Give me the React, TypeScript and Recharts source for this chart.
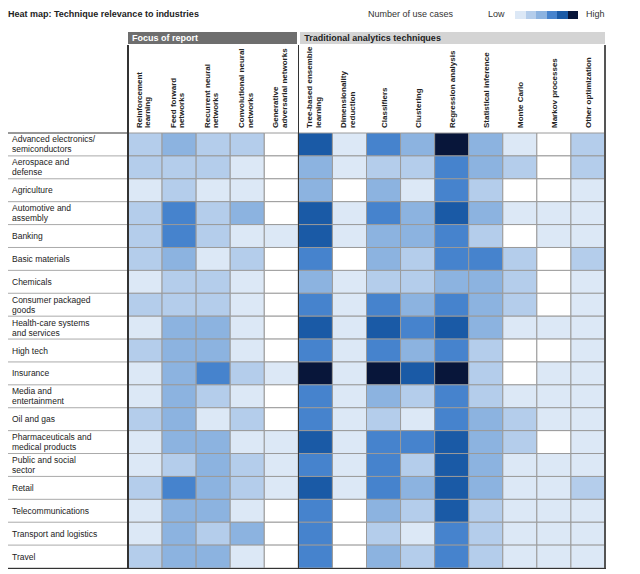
import { Bar, BarChart, Cell, XAxis, YAxis } from 'recharts'

const industries = [
  'Advanced electronics/\nsemiconductors',
  'Aerospace and\ndefense',
  'Agriculture',
  'Automotive and\nassembly',
  'Banking',
  'Basic materials',
  'Chemicals',
  'Consumer packaged\ngoods',
  'Health-care systems\nand services',
  'High tech',
  'Insurance',
  'Media and\nentertainment',
  'Oil and gas',
  'Pharmaceuticals and\nmedical products',
  'Public and social\nsector',
  'Retail',
  'Telecommunications',
  'Transport and logistics',
  'Travel',
]

const techniques = [
  'Reinforcement\nlearning',
  'Feed forward\nnetworks',
  'Recurrent neural\nnetworks',
  'Convolutional neural\nnetworks',
  'Generative\nadversarial networks',
  'Tree-based ensemble\nlearning',
  'Dimensionality\nreduction',
  'Classifiers',
  'Clustering',
  'Regression analysis',
  'Statistical inference',
  'Monte Carlo',
  'Markov processes',
  'Other optimization',
]

// use-case intensity per industry (0 = none ... 6 = high), one row per industry
const useCases = [
  [2, 3, 2, 2, 0, 5, 1, 4, 3, 6, 3, 1, 0, 2],
  [2, 2, 2, 1, 0, 3, 1, 2, 2, 4, 3, 2, 0, 2],
  [1, 2, 1, 1, 0, 3, 0, 3, 1, 4, 2, 0, 0, 1],
  [2, 4, 2, 3, 0, 5, 1, 4, 3, 5, 3, 1, 1, 1],
  [2, 4, 2, 1, 1, 5, 1, 3, 3, 4, 2, 0, 1, 1],
  [2, 3, 1, 2, 0, 4, 0, 3, 2, 4, 4, 2, 0, 2],
  [1, 2, 2, 1, 0, 3, 1, 2, 2, 3, 3, 2, 0, 1],
  [2, 2, 2, 1, 0, 4, 1, 4, 3, 4, 3, 2, 0, 1],
  [1, 3, 3, 1, 0, 5, 1, 5, 4, 5, 3, 1, 1, 1],
  [2, 3, 3, 1, 0, 4, 1, 4, 3, 4, 2, 0, 0, 1],
  [1, 3, 4, 2, 1, 6, 1, 6, 5, 6, 2, 0, 1, 1],
  [1, 3, 2, 1, 0, 4, 1, 3, 2, 4, 2, 1, 1, 1],
  [2, 3, 1, 2, 0, 4, 1, 2, 1, 4, 3, 2, 1, 1],
  [1, 3, 3, 1, 1, 5, 1, 4, 4, 5, 3, 2, 0, 1],
  [1, 2, 3, 2, 1, 4, 1, 4, 2, 5, 3, 1, 1, 1],
  [2, 4, 3, 2, 1, 5, 1, 4, 3, 5, 3, 1, 1, 2],
  [1, 3, 3, 1, 0, 4, 0, 3, 2, 5, 2, 1, 1, 1],
  [1, 3, 2, 3, 0, 4, 0, 2, 1, 4, 2, 1, 1, 1],
  [2, 3, 3, 1, 0, 4, 0, 3, 2, 4, 2, 1, 1, 1],
]

const palette = ['#ffffff', '#dce8f6', '#b4cdeb', '#8cb3e0', '#4683cd', '#1a5aa6', '#08163a']
const legendLevels = [1, 2, 3, 4, 5, 6]

const W = 640
const H = 574
const margin = { top: 45, right: 35, bottom: 6, left: 8 }
const axisTop = 88
const axisLeft = 120
const plotTop = margin.top + axisTop
const plotBottom = H - margin.bottom
const plotLeft = margin.left + axisLeft
const plotRight = W - margin.right
const rowH = (plotBottom - plotTop) / industries.length
const colW = (plotRight - plotLeft) / techniques.length

const font = '"Liberation Sans", Arial, sans-serif'

const data = industries.map((name) => {
  const row: Record<string, string | number> = { name }
  techniques.forEach((_, j) => {
    row[`c${j}`] = 1
  })
  return row
})

const IndustryTick = (props: any) => {
  const { y, payload, index } = props
  const lines = String(payload.value).split('\n')
  return (
    <g>
      {index === 0 && (
        <line x1={margin.left} x2={plotLeft} y1={y - rowH / 2} y2={y - rowH / 2} stroke='#333' strokeWidth={1} />
      )}
      <line x1={margin.left} x2={plotLeft} y1={y + rowH / 2} y2={y + rowH / 2} stroke='#aaa' strokeWidth={1} />
      <text x={12} y={y} fontSize={8.5} fontFamily={font} fill='#222'>
        {lines.map((l, k) => (
          <tspan key={k} x={12} y={y + (k - (lines.length - 1) / 2) * 10 + 3}>
            {l}
          </tspan>
        ))}
      </text>
    </g>
  )
}

const TechniqueTick = (props: any) => {
  const { x, payload } = props
  const idx = Math.round(payload.value - 0.5)
  const lines = (techniques[idx] || '').split('\n')
  const shift = lines.length > 1 ? -2 : 0
  return (
    <text
      transform={`translate(${x + shift},${plotTop - 5}) rotate(-90)`}
      fontSize={8}
      fontWeight='bold'
      fontFamily={font}
      fill='#222'
      textAnchor='start'
    >
      {lines.map((l, k) => (
        <tspan key={k} x={0} y={(k - (lines.length - 1) / 2) * 8.5 + 3}>
          {l}
        </tspan>
      ))}
    </text>
  )
}

const vline = (x: number, top: number, w: number, color: string) => (
  <div
    style={{
      position: 'absolute',
      left: x - w / 2,
      top,
      width: w,
      height: plotBottom - top,
      background: color,
    }}
  />
)

export default function App() {
  const split = plotLeft + colW * 5
  return (
    <div style={{ position: 'absolute', left: 0, top: 0, width: W, height: H, background: '#fff', fontFamily: font }}>
      <div style={{ position: 'absolute', left: 8, top: 9, fontSize: 9, fontWeight: 'bold', color: '#222' }}>
        Heat map: Technique relevance to industries
      </div>
      <div style={{ position: 'absolute', left: 368, top: 9, fontSize: 9, color: '#333' }}>Number of use cases</div>
      <div style={{ position: 'absolute', left: 488, top: 9, fontSize: 9, color: '#333' }}>Low</div>
      <div style={{ position: 'absolute', left: 515, top: 11, display: 'flex' }}>
        {legendLevels.map((l) => (
          <div key={l} style={{ width: 10.5, height: 8, background: palette[l] }} />
        ))}
      </div>
      <div style={{ position: 'absolute', left: 586, top: 9, fontSize: 9, color: '#333' }}>High</div>
      <div
        style={{
          position: 'absolute',
          left: plotLeft,
          top: 32,
          width: split - plotLeft - 1,
          height: 12,
          background: '#6e6e6e',
          color: '#fff',
          fontSize: 9,
          fontWeight: 'bold',
          lineHeight: '12px',
          paddingLeft: 4,
          boxSizing: 'border-box',
        }}
      >
        Focus of report
      </div>
      <div
        style={{
          position: 'absolute',
          left: split + 2,
          top: 32,
          width: plotRight - split - 2,
          height: 12,
          background: '#d4d4d4',
          color: '#222',
          fontSize: 9,
          fontWeight: 'bold',
          lineHeight: '12px',
          paddingLeft: 4,
          boxSizing: 'border-box',
        }}
      >
        Traditional analytics techniques
      </div>
      <div style={{ position: 'absolute', left: 0, top: 0 }}>
        <BarChart width={W} height={H} data={data} layout='vertical' margin={margin} barCategoryGap={0}>
          <XAxis
            type='number'
            orientation='top'
            domain={[0, techniques.length]}
            ticks={techniques.map((_, j) => j + 0.5)}
            height={axisTop}
            axisLine={false}
            tickLine={false}
            tick={<TechniqueTick />}
            interval={0}
          />
          <YAxis
            type='category'
            dataKey='name'
            width={axisLeft}
            axisLine={false}
            tickLine={false}
            tick={<IndustryTick />}
            interval={0}
          />
          {techniques.map((t, j) => (
            <Bar key={t} dataKey={`c${j}`} stackId='a' isAnimationActive={false} stroke='#9a9a9a' strokeWidth={1}>
              {useCases.map((row, i) => (
                <Cell key={i} fill={palette[row[j]]} />
              ))}
            </Bar>
          ))}
        </BarChart>
      </div>
      {vline(plotLeft, 45, 1.5, '#333')}
      {vline(split, 45, 1.5, '#333')}
      {vline(plotRight, 45, 1.5, '#555')}
      <div style={{ position: 'absolute', left: margin.left, top: plotBottom - 0.5, width: plotRight - margin.left + 1, height: 1.5, background: '#333' }} />
    </div>
  )
}
